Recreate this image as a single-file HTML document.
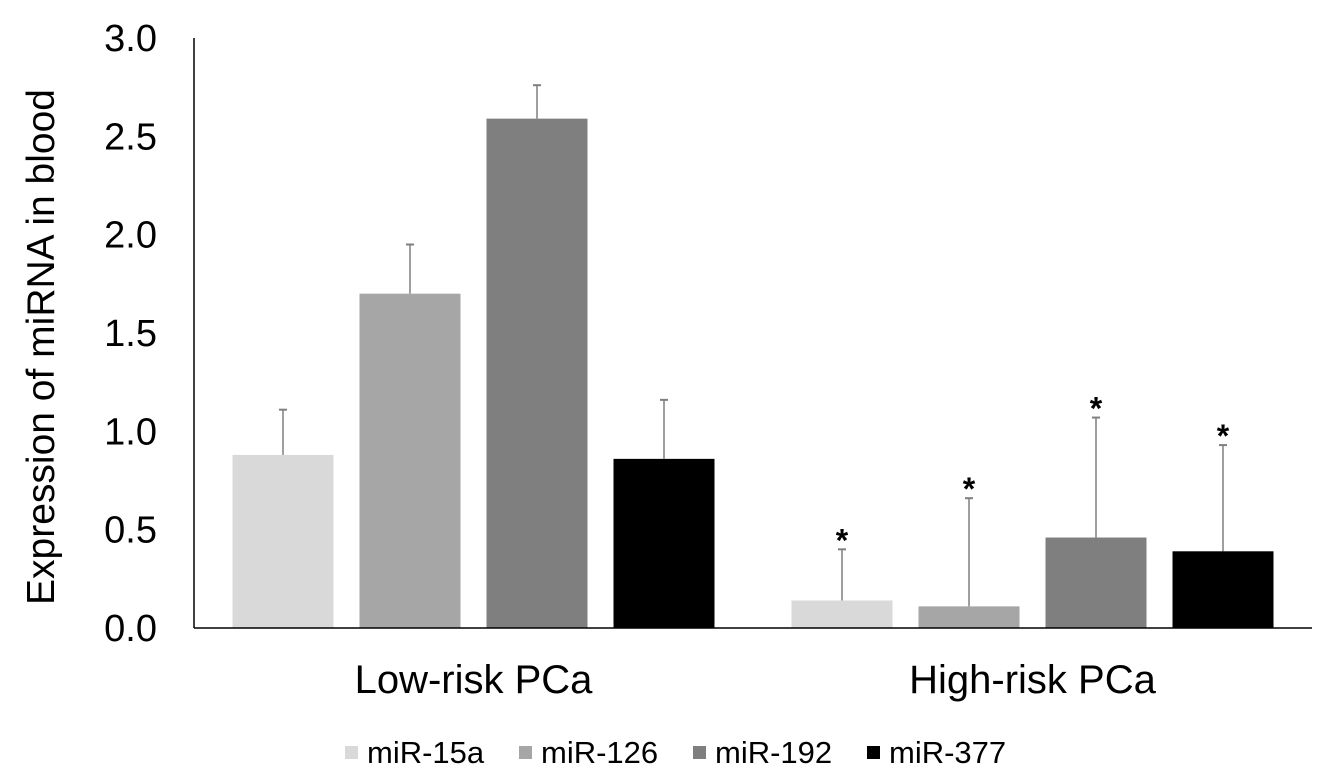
<!DOCTYPE html>
<html><head><meta charset="utf-8"><style>
html,body{margin:0;padding:0;background:#fff;}
svg{display:block;font-family:"Liberation Sans",Arial,sans-serif;}
</style></head><body>
<svg id="chart" width="1332" height="779"></svg>
<script>
const categories=["Low-risk PCa","High-risk PCa"];
const seriesNames=["miR-15a","miR-126","miR-192","miR-377"];
const seriesColors=["#d9d9d9","#a6a6a6","#7f7f7f","#000000"];
const lowValues=[0.88,1.70,2.59,0.86];
const lowErrors=[0.23,0.25,0.17,0.30];
const highValues=[0.14,0.11,0.46,0.39];
const highErrors=[0.26,0.55,0.61,0.54];
const yTicks=["0.0","0.5","1.0","1.5","2.0","2.5","3.0"];
const values=[lowValues,highValues];
const errors=[lowErrors,highErrors];
const stars=[[false,false,false,false],[true,true,true,true]];

const NS="http://www.w3.org/2000/svg";
const svg=document.getElementById('chart');
const x0=194,x1=1312,y0=628,y3=38;
const yScale=v=>y0-(v/3)*(y0-y3);
const groupW=(x1-x0)/categories.length;
const groupX=i=>x0+groupW*i+groupW/2;
const barW=101,step=127;
const barX=(g,s)=>groupX(g)-2*step+(step-barW)/2+s*step;
function el(t,a){const e=document.createElementNS(NS,t);for(const k in a)e.setAttribute(k,a[k]);svg.appendChild(e);return e;}

yTicks.forEach(t=>{
  const tx=el('text',{x:157,y:yScale(parseFloat(t))+13,'text-anchor':'end','font-size':38,fill:'#000'});
  tx.textContent=t;
  
  
});
categories.forEach((c,g)=>{
  seriesNames.forEach((s,i)=>{
    const v=values[g][i],e=errors[g][i],bx=barX(g,i);
    const ex=bx+barW/2;
    const ln=el('line',{x1:ex,x2:ex,y1:yScale(v),y2:yScale(v+e),stroke:'#7f7f7f','stroke-width':1.5});
    
    
    const cap=el('line',{x1:ex-4,x2:ex+4,y1:yScale(v+e),y2:yScale(v+e),stroke:'#7f7f7f','stroke-width':2});
    
    
    const r=el('rect',{x:bx,y:yScale(v),width:barW,height:y0-yScale(v),fill:seriesColors[i]});
    
    
    if(stars[g][i]){
      const st=el('text',{x:ex,y:yScale(v+e)+2,'text-anchor':'middle','font-size':32,'font-weight':'bold',fill:'#000'});
      st.textContent='*';
      
      
    }
  });
  const cl=el('text',{x:groupX(g),y:693,'text-anchor':'middle','font-size':40,fill:'#000'});
  cl.textContent=c;
  
  
});
const ya=el('line',{x1:x0,x2:x0,y1:y3,y2:y0,stroke:'#000','stroke-width':1.5});


const xa=el('line',{x1:x0,x2:x1,y1:y0,y2:y0,stroke:'#000','stroke-width':1.5});


const yt=el('text',{x:0,y:0,transform:'translate(54,347) rotate(-90)','text-anchor':'middle','font-size':39,fill:'#000'});
yt.textContent='Expression of miRNA in blood';


const legX=[345,519,693,867];
seriesNames.forEach((s,i)=>{
  const r=el('rect',{x:legX[i],y:746,width:13,height:13,fill:seriesColors[i]});
  
  
  const t=el('text',{x:legX[i]+22,y:763,'font-size':31,fill:'#000'});
  t.textContent=s;
  
  
});
</script>
</body></html>
